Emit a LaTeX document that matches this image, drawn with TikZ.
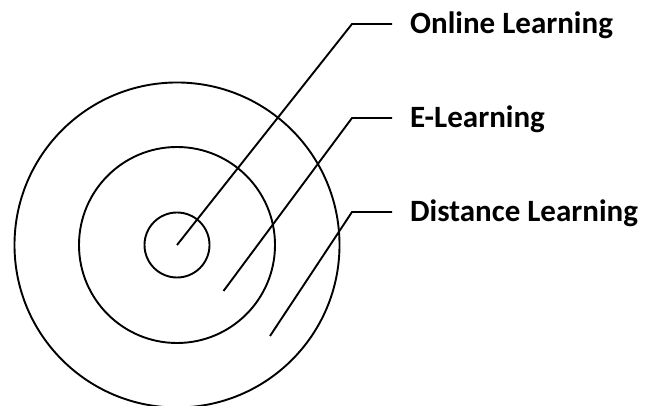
\documentclass[tikz,border=0pt]{standalone}
\usepackage{fontspec}
\setmainfont{Carlito}
\usepackage{tikz}
\usetikzlibrary{positioning, calc}

\begin{document}
\begin{tikzpicture}[
    x=1pt, y=1pt,
    ring/.style={draw, circle, line width=1.9pt, inner sep=0pt},
    leader/.style={line width=1.9pt, shorten >=18pt},
    label/.style={font=\fontsize{31}{37}\selectfont\bfseries, inner sep=0pt, text height=20pt, text depth=0pt, anchor=west}
]
\useasboundingbox (0,0) rectangle (647,406);

% Circles
\coordinate (c) at (177,161);
\node[ring, minimum size=325pt] (outer) at (c) {};
\node[ring, minimum size=196pt] (middle) at (c) {};
\node[ring, minimum size=65pt] (inner) at (c) {};

% Labels
\node[label] (online) at (410,382) {Online Learning};
\node[label] (elearn) at (410,288) {E-Learning};
\node[label] (distance) at (410,194) {Distance Learning};

% Leader lines
\coordinate (s1) at (c);
\coordinate (s2) at (223.5,115);
\coordinate (s3) at (270,70);
\coordinate (k1) at (352,382);
\coordinate (k2) at (352,288);
\coordinate (k3) at (352,194);

\draw[leader] (s1) -- (k1) -- (online.west);
\draw[leader] (s2) -- (k2) -- (elearn.west);
\draw[leader] (s3) -- (k3) -- (distance.west);

\end{tikzpicture}
\end{document}
